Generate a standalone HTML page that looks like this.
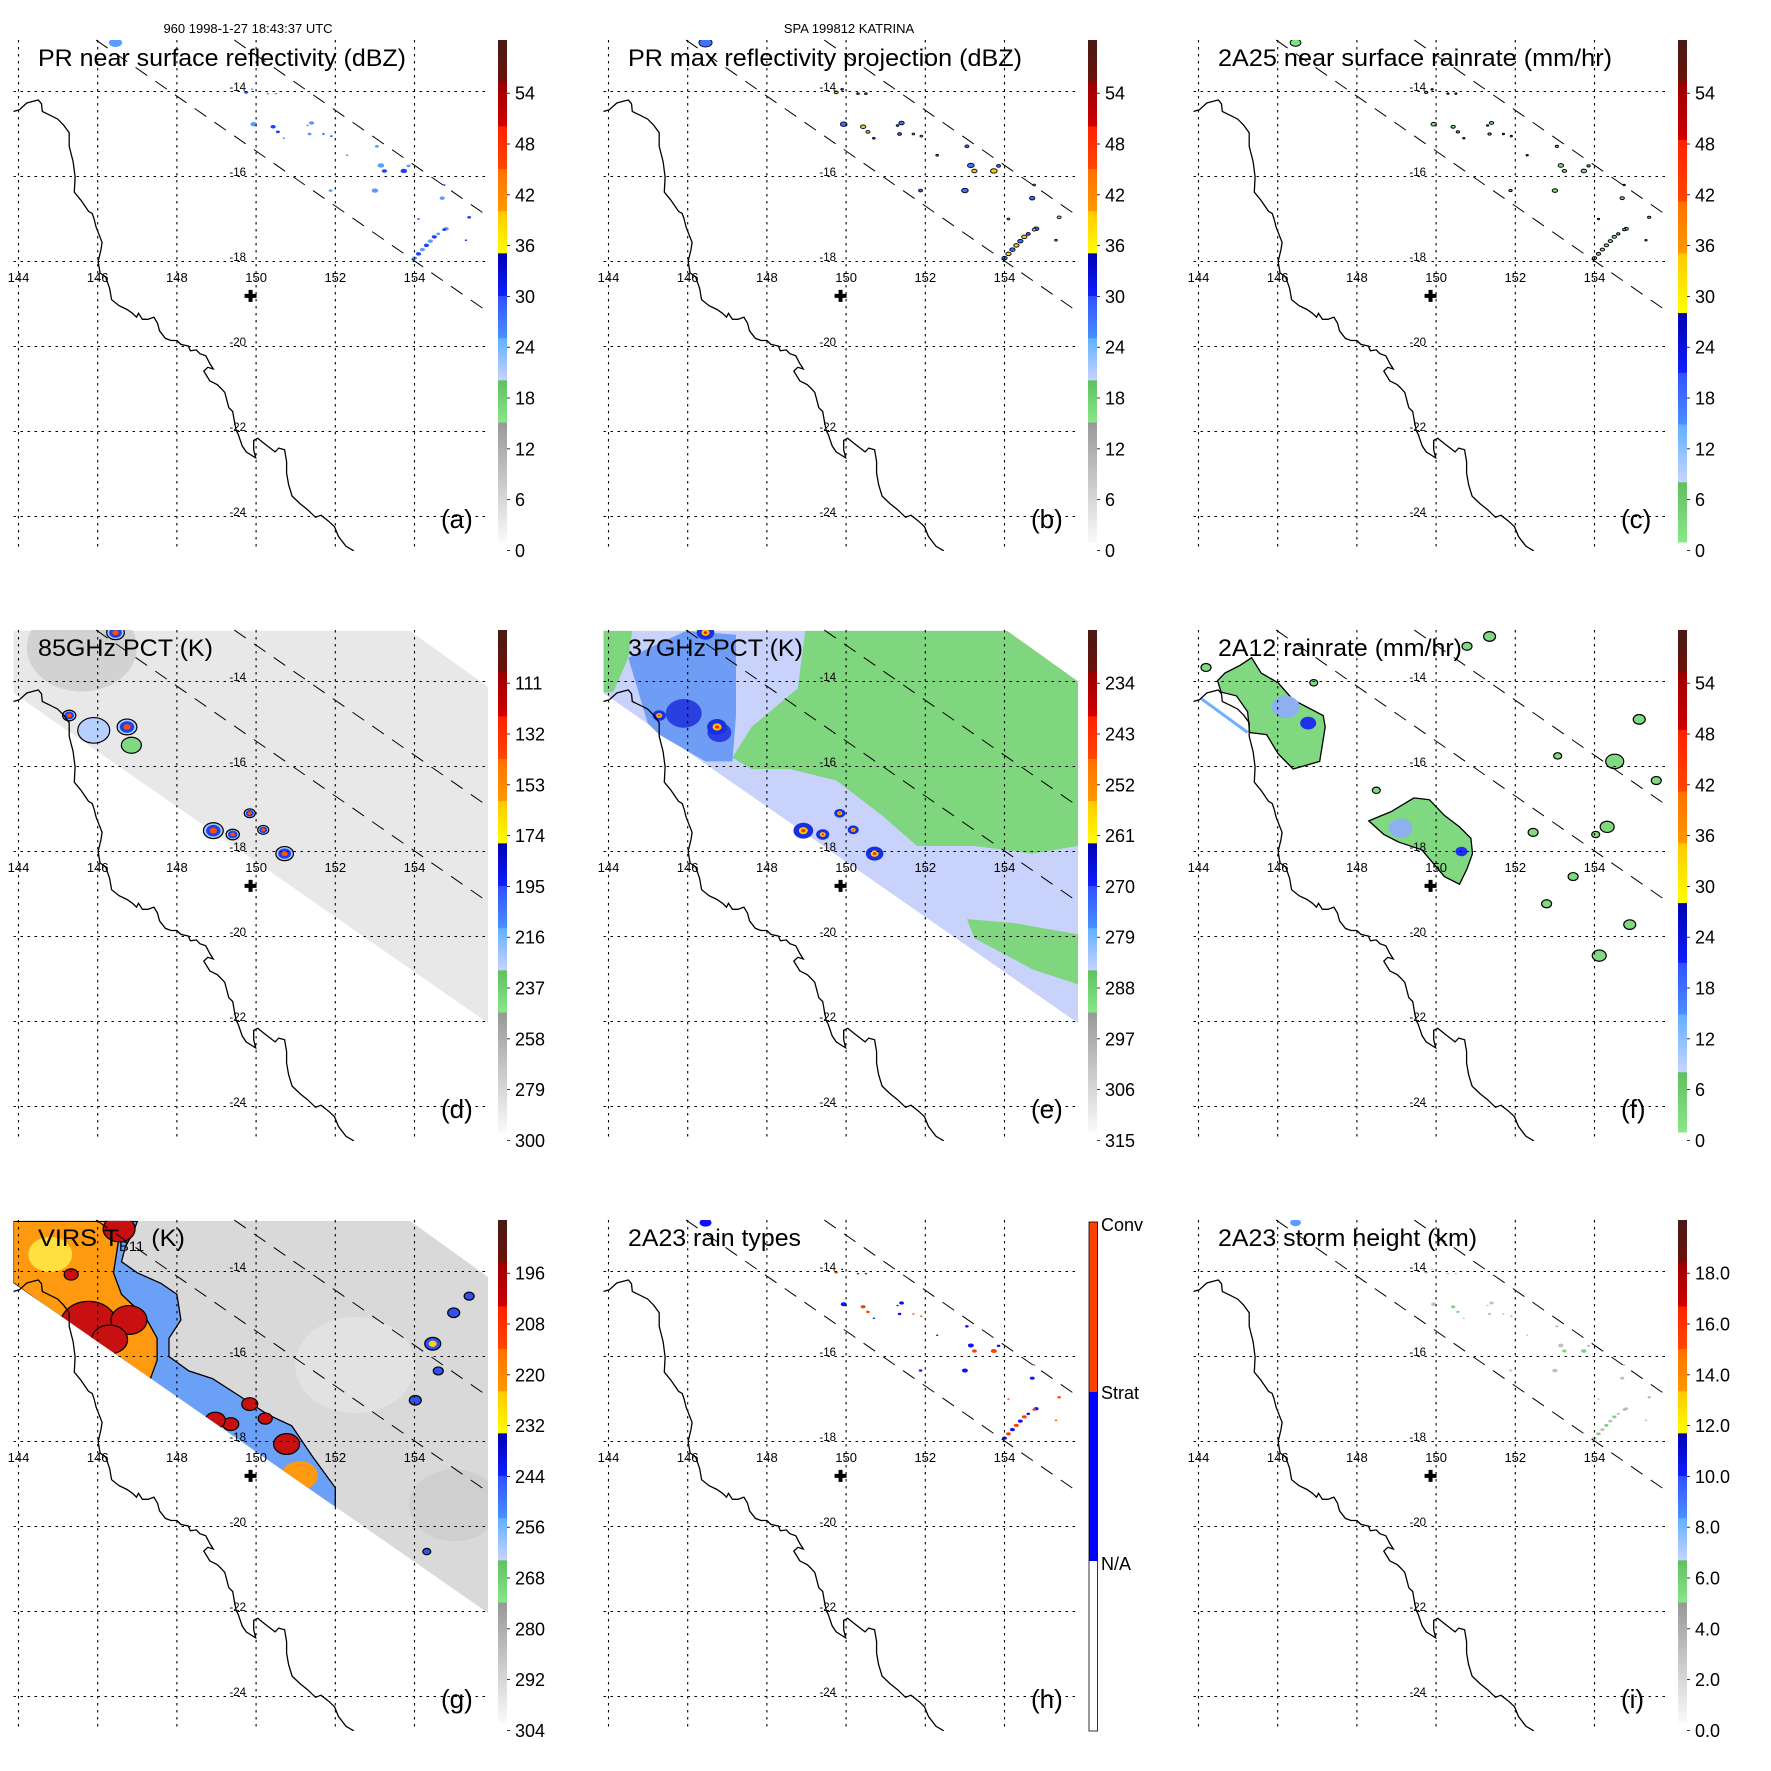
<!DOCTYPE html>
<html><head><meta charset="utf-8"><title>TRMM KATRINA overview</title>
<style>html,body{margin:0;padding:0;background:#fff}svg{display:block}text{font-family:"Liberation Sans",sans-serif}</style>
</head><body>
<svg id="fig" xmlns="http://www.w3.org/2000/svg" width="1771" height="1771" viewBox="0 0 1771 1771">
<rect width="1771" height="1771" fill="#fff"/>
<defs id="defs"></defs>
<text x="248" y="33" font-size="13" text-anchor="middle">960 1998-1-27 18:43:37 UTC</text>
<text x="849" y="33" font-size="13" text-anchor="middle">SPA 199812 KATRINA</text>
</svg>
<script>
// ---------- data arrays ----------
const lonTicks = [144,146,148,150,152,154];
const latTicks = [-14,-16,-18,-20,-22,-24];
const coastLon = [143.87,144.02,144.21,144.41,144.50,144.58,144.60,144.80,144.99,145.14,145.28,145.28,145.38,145.43,145.41,145.57,145.77,145.86,145.91,145.96,146.11,146.08,146.01,146.06,146.20,146.30,146.35,146.54,146.74,146.88,146.98,147.03,147.13,147.27,147.42,147.51,147.56,147.71,147.85,148.00,148.10,148.29,148.34,148.49,148.58,148.73,148.83,148.92,148.78,148.68,148.83,149.02,149.12,149.21,149.26,149.31,149.41,149.46,149.50,149.55,149.65,149.75,149.99,149.94,149.94,150.04,150.23,150.48,150.57,150.72,150.77,150.77,150.82,150.91,151.11,151.30,151.50,151.64,151.83,151.98,152.08,152.27,152.47];
const coastLat = [-14.47,-14.43,-14.27,-14.22,-14.20,-14.29,-14.47,-14.56,-14.65,-14.79,-14.97,-15.29,-15.65,-16.01,-16.37,-16.55,-16.82,-16.87,-17.00,-17.19,-17.55,-17.73,-18.00,-18.27,-18.36,-18.63,-18.90,-19.04,-19.13,-19.22,-19.31,-19.22,-19.36,-19.36,-19.31,-19.45,-19.63,-19.81,-19.86,-19.86,-19.95,-19.99,-20.10,-20.08,-20.17,-20.22,-20.40,-20.53,-20.49,-20.58,-20.81,-20.90,-20.99,-21.08,-21.26,-21.44,-21.53,-21.80,-21.98,-22.07,-22.34,-22.48,-22.62,-22.43,-22.21,-22.16,-22.30,-22.48,-22.39,-22.43,-22.71,-22.98,-23.25,-23.52,-23.70,-23.84,-24.02,-23.97,-24.11,-24.24,-24.47,-24.70,-24.81];
const stormCenter = [149.86,-18.81];
const swathLower = [[145.96,-12.79],[155.86,-19.19]];
const swathUpper = [[149.45,-12.79],[155.86,-16.94]];
const tmiSwath = [[143.87,-12.81],[153.89,-12.81],[155.86,-14.13],[155.86,-22.04],[143.87,-14.27]];
const prLon = [149.75,149.90,150.30,150.50,149.94,150.43,150.55,150.70,151.30,151.40,151.35,151.70,151.90,152.30,151.88,153.05,153.15,153.24,153.73,153.85,153.00,154.70,154.75,155.38,155.30,154.80,154.10,154.00,154.10,154.20,154.30,154.40,154.50,154.60,154.75,146.45];
const prLat = [-14.02,-13.95,-14.05,-14.05,-14.77,-14.83,-14.95,-15.10,-14.80,-14.74,-15.00,-15.00,-15.05,-15.50,-16.33,-15.29,-15.74,-15.87,-15.87,-15.75,-16.33,-16.51,-16.20,-16.96,-17.50,-17.23,-17.00,-17.92,-17.82,-17.72,-17.62,-17.52,-17.42,-17.35,-17.25,-12.85];
const prSize = [3,2,2,2,5,4,3,2,2,4,3,2,2,2,3,3,5,4,5,3,5,4,2,3,2,4,2,4,4,4,4,4,4,3,3,10];
const prType = [1,0,0,0,0,1,1,0,0,0,0,1,1,0,0,0,0,1,1,0,0,0,1,1,1,0,1,0,1,0,1,0,1,0,1,0];
const cellLon = [145.28,146.74,149.84,148.92,149.41,150.18,150.72,146.45];
const cellLat = [-14.80,-15.07,-17.10,-17.51,-17.60,-17.49,-18.05,-12.85];
const cellR = [6,9,5,9,6,5,8,8];
const rainNWLon = [144.67,145.05,145.34,145.58,146.01,146.39,147.15,147.20,147.06,146.39,146.01,145.72,145.29,145.24,144.96,144.57,144.48];
const rainNWLat = [-13.80,-13.62,-13.44,-13.80,-14.03,-14.43,-14.80,-15.07,-15.88,-16.06,-15.70,-15.25,-15.20,-14.71,-14.34,-14.25,-13.98];
const rainMidLon = [148.30,148.87,149.44,149.83,150.21,150.59,150.88,150.92,150.78,150.59,150.21,149.64,149.06,148.68];
const rainMidLat = [-17.28,-17.06,-16.74,-16.78,-17.15,-17.42,-17.69,-18.05,-18.41,-18.77,-18.59,-17.96,-17.78,-17.60];
const smallRainLon = [151.35,150.78,154.51,155.13,155.56,153.07,152.45,154.03,154.32,153.46,152.79,154.89,154.12,146.91,144.19,148.49];
const smallRainLat = [-12.94,-13.17,-15.88,-14.89,-16.33,-15.75,-17.55,-17.60,-17.42,-18.59,-19.23,-19.72,-20.45,-14.03,-13.67,-16.56];
const smallRainR = [6,5,9,6,5,4,5,4,7,5,5,6,7,4,5,4];
const warmLon = [148.97,154.07,155.86,155.86,154.70,153.24,151.79,150.91,149.75,148.58,147.61,147.13,147.61,148.78];
const warmLat = [-12.81,-12.81,-14.0,-17.87,-18.05,-17.87,-17.87,-17.15,-16.33,-16.06,-16.06,-15.79,-15.07,-14.16];
const coolLon = [144.5,145.96,147.22,147.22,147.13,146.45,145.28,144.99];
const coolLat = [-13.44,-12.81,-12.9,-14.8,-15.88,-15.88,-15.25,-14.98];
const cloudLon = [143.87,147.0,146.9,146.7,146.6,147.0,147.6,148.0,148.1,147.8,147.8,148.3,148.9,149.6,150.3,150.9,151.4,152.0,152.0,143.87];
const cloudLat = [-12.82,-12.82,-13.08,-13.42,-13.77,-14.03,-14.28,-14.54,-15.14,-15.57,-16.0,-16.34,-16.52,-16.94,-17.37,-17.63,-18.32,-19.09,-19.70,-14.27];
const coldLon = [143.87,146.6,146.4,146.6,147.2,147.5,147.5,147.3,143.87];
const coldLat = [-12.82,-12.82,-14.03,-14.54,-15.06,-15.57,-16.09,-16.6,-14.27];
const coldCoreLon = [145.77,146.79,146.54,145.33,149.84,149.36,148.97,150.23,150.77,146.3];
const coldCoreLat = [-15.23,-15.14,-13.0,-14.07,-17.12,-17.59,-17.5,-17.46,-18.06,-15.6];
const coldCoreR = [28,18,16,7,8,8,10,7,13,18];
const eastCellLon = [154.46,154.99,155.38,154.02,154.6,154.31];
const eastCellLat = [-15.70,-14.97,-14.58,-17.03,-16.34,-20.59];
const eastCellR = [8,6,5,6,5,4];
const ticksA = ['54','48','42','36','30','24','18','12','6','0'];
const ticksD = ['111','132','153','174','195','216','237','258','279','300'];
const ticksE = ['234','243','252','261','270','279','288','297','306','315'];
const ticksG = ['196','208','220','232','244','256','268','280','292','304'];
const ticksI = ['18.0','16.0','14.0','12.0','10.0','8.0','6.0','4.0','2.0','0.0'];
const ticksH = ['Conv','Strat','N/A'];

// ---------- helpers ----------
const NS='http://www.w3.org/2000/svg';
const svg=document.getElementById('fig'), defs=document.getElementById('defs');
function mk(tag,attrs,parent){const e=document.createElementNS(NS,tag);for(const k in attrs)e.setAttribute(k,attrs[k]);(parent||svg).appendChild(e);return e;}
const X=lon=>18.5+(lon-144)*39.6;
const Y=lat=>91.5+(-14-lat)*42.5;
const pts=(lo,la)=>lo.map((v,i)=>X(v).toFixed(1)+','+Y(la[i]).toFixed(1)).join(' ');

const STD=[[0,.084,'#4a1a16','#6a1208'],[.084,.172,'#9a0000','#d00000'],[.172,.257,'#ff2000','#ff4800'],[.257,.341,'#ff7000','#ff9800'],[.341,.425,'#ffc800','#ffff00'],[.425,.51,'#0000b0','#1020ff'],[.51,.594,'#3050ff','#4a90ff'],[.594,.678,'#60b0ff','#c8d4ff'],[.678,.762,'#60c060','#88e888'],[.762,1,'#989898','#fafafa']];
const SHIFT=[[0,.084,'#4a1a16','#6a1208'],[.084,.199,'#9a0000','#d00000'],[.199,.322,'#ff2000','#ff4800'],[.322,.425,'#ff7000','#ff9800'],[.425,.544,'#ffc800','#ffff00'],[.544,.663,'#0000b0','#1020ff'],[.663,.766,'#3050ff','#4a90ff'],[.766,.881,'#60b0ff','#c8d4ff'],[.881,1,'#60c060','#88e888']];
let gid=0;
function colorbar(g,segs,labels){
  const cb=mk('g',{},g);
  
  
  const top=40,len=502;
  segs.forEach(s=>{const id='gr'+(gid++);const lg=mk('linearGradient',{id:id,x1:0,y1:0,x2:0,y2:1},defs);mk('stop',{offset:0,'stop-color':s[2]},lg);mk('stop',{offset:1,'stop-color':s[3]},lg);
    mk('rect',{x:498,y:top+s[0]*len,width:9,height:(s[1]-s[0])*len+0.5,fill:'url(#'+id+')'},cb);});
  labels.forEach((t,i)=>{const y=top+(0.106+i*0.1012)*len;
    mk('line',{x1:507,y1:y,x2:510,y2:y,stroke:'#000','stroke-width':0.8},cb);
    const tx=mk('text',{x:515,y:y+6.5,'font-size':18},cb);tx.textContent=t;
    
    });
}
function panel(col,row,letter,title,titleLen,kind){
  const g=mk('g',{transform:`translate(${col*590},${row*590})`});
  
  
  const cid='clip'+letter;const cp=mk('clipPath',{id:cid},defs);mk('rect',{x:13.5,y:40,width:474.5,height:511},cp);
  const data=mk('g',{'clip-path':'url(#'+cid+')'},g);
  
  
  kind(data);
  const cl=mk('polyline',{points:pts(coastLon,coastLat),fill:'none',stroke:'#000','stroke-width':1.3},data);
  
  
  lonTicks.forEach(l=>{const ln=mk('line',{x1:X(l),y1:40,x2:X(l),y2:551,stroke:'#000','stroke-width':1.1,'stroke-dasharray':'2.5 4.5'},g);
    
    
    const t=mk('text',{x:X(l),y:282,'font-size':13,'text-anchor':'middle'},g);t.textContent=l;
    
    });
  latTicks.forEach(l=>{const ln=mk('line',{x1:13.5,y1:Y(l),x2:488,y2:Y(l),stroke:'#000','stroke-width':1.1,'stroke-dasharray':'2.5 4.5'},g);
    
    
    const t=mk('text',{x:246,y:Y(l)-0.5,'font-size':11.5,'text-anchor':'end'},g);t.textContent=l;
    
    });
  [swathLower,swathUpper].forEach(s=>{const ln=mk('line',{x1:X(s[0][0]),y1:Y(s[0][1]),x2:X(s[1][0]),y2:Y(s[1][1]),stroke:'#000','stroke-width':1,'stroke-dasharray':'14 10'},g);
    
    });
  const cx=X(stormCenter[0]),cy=Y(stormCenter[1]);
  const cr=mk('path',{d:`M${cx-6},${cy}H${cx+6}M${cx},${cy-6}V${cy+6}`,stroke:'#000','stroke-width':4},g);
  
  
  const tt=mk('text',{x:38,y:66,'font-size':24,textLength:titleLen,lengthAdjust:'spacingAndGlyphs'},g);
  
  
  if(Array.isArray(title)){tt.appendChild(document.createTextNode(title[0]));const s=mk('tspan',{'font-size':14,dy:5},tt);s.textContent=title[1];const s2=mk('tspan',{dy:-5},tt);s2.textContent=title[2];}
  else tt.textContent=title;
  const lt=mk('text',{x:441,y:528,'font-size':26},g);lt.textContent='('+letter+')';
  
  
  return g;
}
function specks(d,fillFn,strokeFn,scale){
  prLon.forEach((lo,i)=>{const c=mk('ellipse',{cx:X(lo),cy:Y(prLat[i]),rx:prSize[i]*scale*1.2,ry:prSize[i]*scale*0.8,fill:fillFn(i),stroke:strokeFn(i),'stroke-width':1},d);
    
    });
}
function swath(d,fill){const p=mk('polygon',{points:pts(tmiSwath.map(a=>a[0]),tmiSwath.map(a=>a[1])),fill:fill},d);
  
  return p;}
function poly(d,lo,la,fill,stroke,name){const p=mk('polygon',{points:pts(lo,la),fill:fill,stroke:stroke||'none','stroke-width':1.3},d);
  
  return p;}
function dot(d,lo,la,r,fill,stroke,name){const c=mk('ellipse',{cx:X(lo),cy:Y(la),rx:r,ry:r*0.8,fill:fill,stroke:stroke||'none','stroke-width':1.2},d);
  
  return c;}

// ---------- panels ----------
let g;
g=panel(0,0,'a','PR near surface reflectivity (dBZ)',368,d=>specks(d,i=>prType[i]?'#2040ff':'#5a9cff',()=>'none',0.55));
colorbar(g,STD,ticksA);
g=panel(1,0,'b','PR max reflectivity projection (dBZ)',394,d=>specks(d,i=>prType[i]?'#ffd000':'#4070ff',()=>'#0a1030',0.55));
colorbar(g,STD,ticksA);
g=panel(2,0,'c','2A25 near surface rainrate (mm/hr)',394,d=>specks(d,()=>'#80dd80',()=>'#000',0.45));
colorbar(g,SHIFT,ticksA);

g=panel(0,1,'d','85GHz PCT (K)',175,d=>{swath(d,'#e8e8e8');
  dot(d,145.6,-13.2,55,'#d2d2d2',null,'warm-region');
  dot(d,145.9,-15.15,16,'#b8d0ff','#000','rain-area');dot(d,146.85,-15.5,10,'#80d880','#000','rain-area');
  cellLon.forEach((lo,i)=>{dot(d,lo,cellLat[i],cellR[i]*1.1,'#a8c8ff','#000','cell-outline');dot(d,lo,cellLat[i],cellR[i]*0.8,'#2040f0',null,'cell');dot(d,lo,cellLat[i],cellR[i]*0.4,'#ff5000',null,'cell-core');});});
colorbar(g,STD,ticksD);
g=panel(1,1,'e','37GHz PCT (K)',175,d=>{swath(d,'#c8d2fa');
  poly(d,warmLon,warmLat,'#7fd67f',null,'warm-region');
  poly(d,[143.87,144.6,144.5,144.12,143.87],[-12.81,-12.81,-13.44,-14.25,-14.25],'#7fd67f',null,'warm-region');
  poly(d,[153.05,154.22,155.86,155.86,154.70,153.24],[-19.59,-19.68,-19.95,-21.13,-20.77,-20.04],'#7fd67f',null,'warm-region');
  poly(d,coolLon,coolLat,'#6f9cf5',null,'cool-region');
  dot(d,145.9,-14.75,18,'#2a3fe0',null,'cold-region');dot(d,146.8,-15.2,12,'#2a3fe0',null,'cold-region');
  cellLon.forEach((lo,i)=>{dot(d,lo,cellLat[i],cellR[i]*1.1,'#1830e0',null,'cell');dot(d,lo,cellLat[i],cellR[i]*0.5,'#ffc000',null,'cell-core');dot(d,lo,cellLat[i],cellR[i]*0.22,'#ff2000',null,'cell-core');});});
colorbar(g,STD,ticksE);
g=panel(2,1,'f','2A12 rainrate (mm/hr)',244,d=>{
  poly(d,rainNWLon,rainNWLat,'#80d880','#000','rain-area');
  poly(d,rainMidLon,rainMidLat,'#80d880','#000','rain-area');
  const ln=mk('line',{x1:X(144.05),y1:Y(-14.39),x2:X(145.24),y2:Y(-15.20),stroke:'#70b0ff','stroke-width':3},d);
  
  
  dot(d,146.2,-14.6,14,'#8fb0f0',null,'moderate-rain');dot(d,146.77,-14.98,8,'#2030f0',null,'heavy-rain');
  dot(d,149.1,-17.45,12,'#8fb0f0',null,'moderate-rain');dot(d,150.64,-18.0,6,'#2030f0',null,'heavy-rain');
  smallRainLon.forEach((lo,i)=>dot(d,lo,smallRainLat[i],smallRainR[i],'#80d880','#000','rain-cell'));});
colorbar(g,SHIFT,ticksA);

g=panel(0,2,'g',['VIRS T','B11',' (K)'],147,d=>{swath(d,'#d9d9d9');
  dot(d,152.5,-16.2,60,'#e2e2e2',null,'cloud-texture');dot(d,155,-19.5,45,'#cfcfcf',null,'cloud-texture');
  poly(d,cloudLon,cloudLat,'#6aa0f5','#000','cold-cloud');
  poly(d,coldLon,coldLat,'#ff9a10','#000','very-cold-cloud');
  dot(d,144.8,-13.6,22,'#ffe040',null,'cloud-yellow');
  dot(d,151.1,-18.8,18,'#ff9a10',null,'very-cold-cloud');
  coldCoreLon.forEach((lo,i)=>dot(d,lo,coldCoreLat[i],coldCoreR[i],'#c81010','#000','cold-core'));
  eastCellLon.forEach((lo,i)=>{dot(d,lo,eastCellLat[i],eastCellR[i],'#3050f0','#000','east-cell');});
  dot(d,154.46,-15.70,4,'#ffd000',null,'east-core');
  const cp=mk('clipPath',{id:'gsw'},defs);mk('polygon',{points:pts(tmiSwath.map(a=>a[0]),tmiSwath.map(a=>a[1]))},cp);
  [...d.children].forEach(c=>c.setAttribute('clip-path','url(#gsw)'));});
colorbar(g,STD,ticksG);
g=panel(1,2,'h','2A23 rain types',173,d=>specks(d,i=>prType[i]?'#ff4000':'#1010ff',()=>'none',0.5));
{const cb=mk('g',{},g);
 
 
 mk('rect',{x:499,y:42,width:8.5,height:170,fill:'#ff4000'},cb);
 mk('rect',{x:499,y:212,width:8.5,height:169,fill:'#0000ff'},cb);
 mk('rect',{x:499,y:381,width:8.5,height:170,fill:'#fff'},cb);
 mk('rect',{x:499,y:42,width:8.5,height:509,fill:'none',stroke:'#000','stroke-width':0.8},cb);
 [44,212,383].forEach((y,i)=>{const t=mk('text',{x:511,y:y+7,'font-size':18},cb);t.textContent=ticksH[i];
   
   });}
g=panel(2,2,'i','2A23 storm height (km)',259,d=>specks(d,i=>i===35?'#5a9cff':(prType[i]?'#80d080':'#c0c0c0'),()=>'none',0.45));
colorbar(g,STD,ticksI);
</script>
</body></html>
